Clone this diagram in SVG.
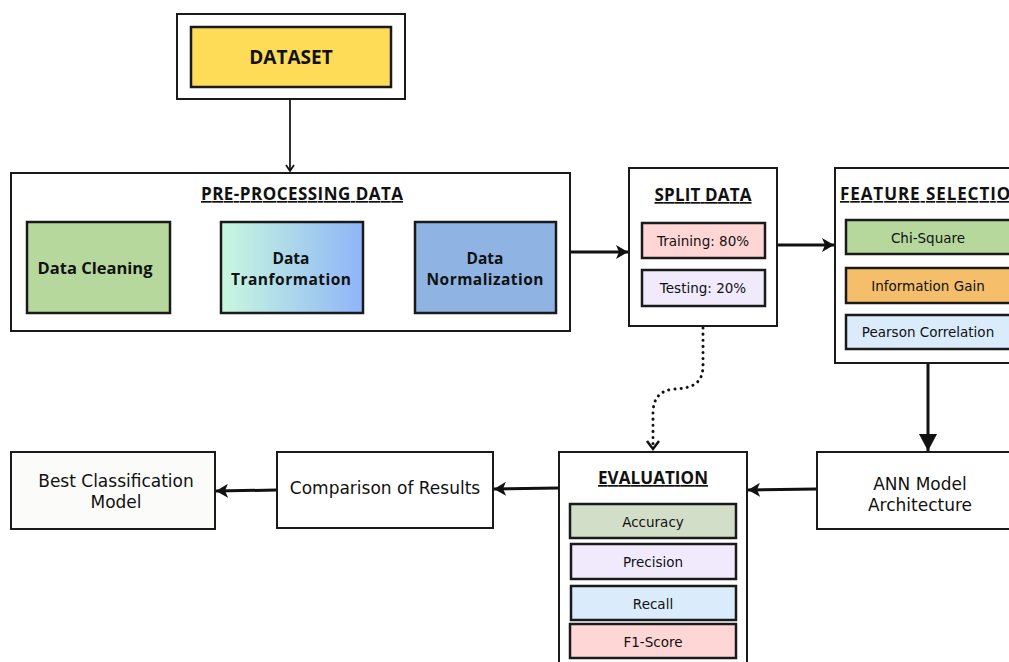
<svg xmlns="http://www.w3.org/2000/svg" width="1009" height="662" viewBox="0 0 1009 662">
<defs>
<style>
.box{fill:#fff;stroke:#1a1a1a;stroke-width:2}
.inner{stroke:#1a1a1a;stroke-width:2.5}
.t{font-family:"DejaVu Sans","Open Sans",sans-serif;fill:#111;text-anchor:middle}
.b{font-family:"Open Sans","Noto Sans",sans-serif;font-weight:700}
.h{font-family:"Open Sans","Noto Sans",sans-serif;font-weight:700;text-decoration:underline}
.thin{stroke:#1a1a1a;stroke-width:1.8;fill:none}
.thick{stroke:#111;stroke-width:3;fill:none}
.dot{stroke:#111;stroke-width:3;fill:none;stroke-dasharray:0.1 6;stroke-linecap:round}
</style>
<linearGradient id="gTrans" x1="0" y1="0" x2="1" y2="0">
<stop offset="0" stop-color="#c8f8df"/>
<stop offset="1" stop-color="#8fb5f7"/>
</linearGradient>
<marker id="aThin" markerWidth="10" markerHeight="10" refX="8" refY="5" orient="auto" markerUnits="userSpaceOnUse">
<path d="M2,1 L8,5 L2,9" fill="none" stroke="#111" stroke-width="1.8"/>
</marker>
<marker id="aFill" markerWidth="14" markerHeight="14" refX="12" refY="7" orient="auto" markerUnits="userSpaceOnUse">
<path d="M0,0 L12,7 L0,14 L3,7 Z" fill="#111"/>
</marker>
<marker id="aBig" markerWidth="20" markerHeight="18" refX="17" refY="9" orient="auto" markerUnits="userSpaceOnUse">
<path d="M0,0 L17,9 L0,18 Z" fill="#111"/>
</marker>
</defs>
<rect width="1009" height="662" fill="#fff"/>

<g id="connectors">
<path class="thin" d="M290,99 L290,171" marker-end="url(#aThin)"/>
<path class="thin" d="M170,268 L220,268" marker-end="url(#aThin)"/>
<path class="thin" d="M363,268 L414,268" marker-end="url(#aThin)"/>
<path class="thick" d="M570,252 L628,252" marker-end="url(#aFill)"/>
<path class="thick" d="M777,245 L834,245" marker-end="url(#aFill)"/>
<path class="thick" d="M928,363 L928,451" marker-end="url(#aBig)"/>
<path class="thick" d="M817,489 L748,490" marker-end="url(#aFill)"/>
<path class="thick" d="M559,488 L494,489" marker-end="url(#aFill)"/>
<path class="thick" d="M277,490 L216,491" marker-end="url(#aFill)"/>
<path class="dot" d="M703,328 L703,366 C703,385 690,388 675,389 C660,390 653,398 653,414 L653,446"/>
<path d="M647,441 L653,449 L659,441" fill="none" stroke="#111" stroke-width="2.5"/>
</g>

<g id="dataset">
<rect class="box" x="177" y="14" width="228" height="85"/>
<rect class="inner" x="191" y="27" width="200" height="60" fill="#ffdc57"/>
<text class="t b" x="291" y="64" font-size="19">DATASET</text>
</g>

<g id="preprocessing">
<rect class="box" x="11" y="173" width="559" height="158"/>
<text class="t h" x="302" y="200" font-size="17" textLength="202">PRE-PROCESSING DATA</text>
</g>
<g id="data-cleaning">
<rect class="inner" x="27" y="222" width="143" height="91" fill="#b6d89c"/>
<text class="t b" x="95" y="274" font-size="16.5">Data Cleaning</text>
</g>
<g id="data-transformation">
<rect class="inner" x="221" y="222" width="142" height="91" fill="url(#gTrans)"/>
<text class="t b" x="291" y="264" font-size="15.5">Data</text>
<text class="t b" x="291" y="285" font-size="15.5" textLength="120">Tranformation</text>
</g>
<g id="data-normalization">
<rect class="inner" x="415" y="222" width="141" height="91" fill="#8fb4e3"/>
<text class="t b" x="485" y="264" font-size="15.5">Data</text>
<text class="t b" x="485" y="285" font-size="15.5" textLength="117">Normalization</text>
</g>

<g id="split-data">
<rect class="box" x="629" y="168" width="148" height="158"/>
<text class="t h" x="703" y="201" font-size="17" textLength="97">SPLIT DATA</text>
<rect class="inner" x="642" y="223" width="123" height="35" fill="#ffd6d6"/>
<text class="t" x="703" y="246" font-size="13.5">Training: 80%</text>
<rect class="inner" x="642" y="270" width="123" height="36" fill="#f0eafc"/>
<text class="t" x="703" y="293" font-size="13.5">Testing: 20%</text>
</g>

<g id="feature-selection">
<rect class="box" x="835" y="168" width="190" height="195"/>
<text class="t h" x="840" y="200" font-size="17" textLength="185" style="text-anchor:start">FEATURE SELECTION</text>
<rect class="inner" x="846" y="220" width="180" height="34" fill="#b6d89c"/>
<text class="t" x="928" y="243" font-size="13.5">Chi-Square</text>
<rect class="inner" x="846" y="268" width="180" height="35" fill="#f4be6a"/>
<text class="t" x="928" y="291" font-size="13.5">Information Gain</text>
<rect class="inner" x="846" y="315" width="180" height="34" fill="#daebfb"/>
<text class="t" x="928" y="337" font-size="13.5">Pearson Correlation</text>
</g>

<g id="ann-model">
<rect class="box" x="817" y="452" width="210" height="77"/>
<text class="t" x="920" y="490" font-size="17">ANN Model</text>
<text class="t" x="920" y="511" font-size="17">Architecture</text>
</g>

<g id="evaluation">
<rect class="box" x="559" y="452" width="188" height="220"/>
<text class="t h" x="653" y="484" font-size="17" textLength="110">EVALUATION</text>
<rect class="inner" x="570" y="504" width="166" height="34" fill="#d3dec8"/>
<text class="t" x="653" y="527" font-size="13.5">Accuracy</text>
<rect class="inner" x="571" y="544" width="165" height="35" fill="#f0eafc"/>
<text class="t" x="653" y="567" font-size="13.5">Precision</text>
<rect class="inner" x="571" y="586" width="165" height="34" fill="#daebfb"/>
<text class="t" x="653" y="609" font-size="13.5">Recall</text>
<rect class="inner" x="570" y="624" width="166" height="34" fill="#ffd6d6"/>
<text class="t" x="653" y="647" font-size="13.5">F1-Score</text>
</g>

<g id="comparison">
<rect class="box" x="277" y="452" width="216" height="76"/>
<text class="t" x="385" y="494" font-size="17">Comparison of Results</text>
</g>

<g id="best-model">
<rect class="box" x="11" y="452" width="204" height="77" style="fill:#fbfbf9"/>
<text class="t" x="116" y="487" font-size="17">Best Classification</text>
<text class="t" x="116" y="508" font-size="17">Model</text>
</g>
</svg>
